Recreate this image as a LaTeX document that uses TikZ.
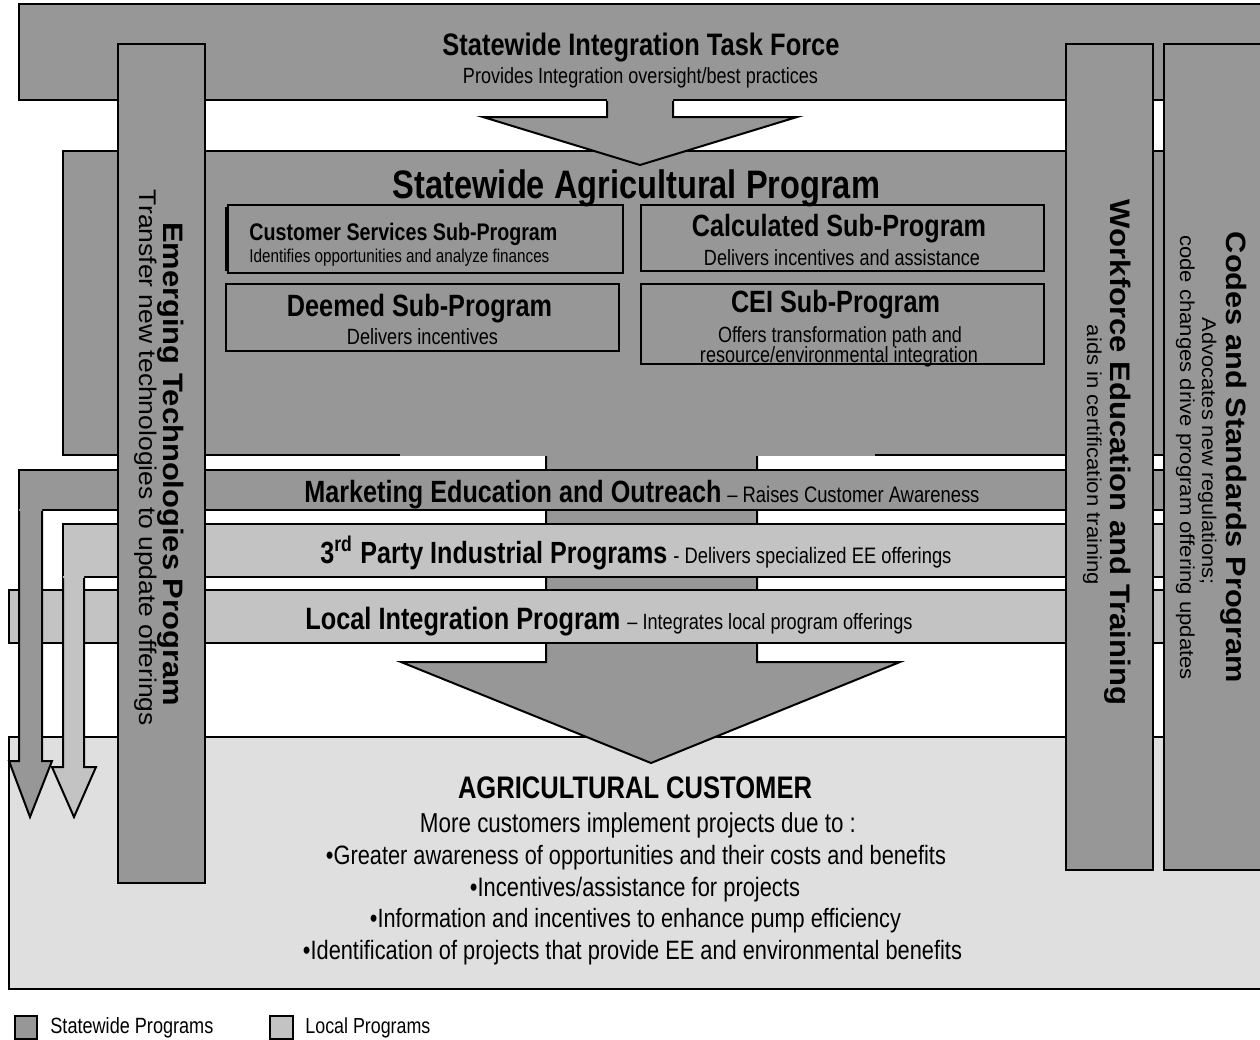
\documentclass[tikz,border=0pt]{standalone}
\usepackage{fontspec}
\setmainfont{Liberation Sans}
\newfontfamily\nar[FakeStretch=0.82]{Liberation Sans}
\newfontfamily\wid[FakeStretch=1.1]{Liberation Sans}
\newlength\pxu \setlength\pxu{0.5pt}
\newcommand{\fitw}[2]{\resizebox{#1\pxu}{!}{#2}}
\definecolor{sw}{HTML}{979797}
\definecolor{loc}{HTML}{C3C3C3}
\definecolor{cust}{HTML}{DFDFDF}
\begin{document}
\begin{tikzpicture}[x=0.5pt,y=-0.5pt,line join=miter,
  box/.style={draw=black,line width=1pt},
  swbox/.style={box,fill=sw},
  locbox/.style={box,fill=loc},
  txc/.style={inner sep=0pt,anchor=base},
  txl/.style={inner sep=0pt,anchor=base west},
  txv/.style={inner sep=0pt,anchor=base,rotate=-90}]
\path[use as bounding box] (0,0) rectangle (1260,1040);
\clip (0,0) rectangle (1260,1040);
\fill[white] (0,0) rectangle (1260,1040);

% task force and agricultural program
\draw[swbox] (19,4) rectangle (1290,100);
\draw[swbox] (63,151) rectangle (1190,455);
% top arrow
\fill[sw] (607,98) -- (607,117) -- (483,117) -- (640,165) -- (797,117) -- (673,117) -- (673,98) -- cycle;
\draw[line width=1pt] (607,101) -- (607,117) -- (483,117) -- (640,165) -- (797,117) -- (673,117) -- (673,101);

% sub-programs
\draw[box] (228,205) rectangle (623,273);
\draw[line width=0.6pt] (226,207) -- (226,271);
\draw[box] (641,205) rectangle (1044,271);
\draw[box] (226,284) rectangle (619,351);
\draw[box] (641,284) rectangle (1044,364);

% customer box
\draw[box,fill=cust] (9,737) rectangle (1290,989);

% central arrow
\fill[sw] (400,372) rectangle (875,456);
\fill[sw] (546,454) -- (546,662) -- (401,662) -- (651,763) -- (900,662) -- (757,662) -- (757,454) -- cycle;
\draw[line width=1pt] (546,456) -- (546,662) -- (401,662) -- (651,763) -- (900,662) -- (757,662) -- (757,456);

% bands
\draw[swbox] (19,470) rectangle (1190,510);
\draw[locbox] (63,524) rectangle (1190,577);
\draw[locbox] (9,590) rectangle (1190,643);

% left arrows
\fill[sw] (19,509) -- (19,761) -- (9,761) -- (30,817) -- (52,761) -- (42,761) -- (42,509) -- cycle;
\draw[line width=1pt] (19,511) -- (19,761) -- (9,761) -- (30,817) -- (52,761) -- (42,761) -- (42,511);
\fill[loc] (63,576) -- (63,767) -- (52,767) -- (74,817) -- (96,767) -- (84,767) -- (84,576) -- cycle;
\draw[line width=1pt] (63,578) -- (63,767) -- (52,767) -- (74,817) -- (96,767) -- (84,767) -- (84,578);

% vertical bars
\draw[swbox] (118,44) rectangle (205,883);
\draw[swbox] (1066,44) rectangle (1153,870);
\draw[swbox] (1164,44) rectangle (1290,870);

% texts
\node[txc] (tf) at (641,55) {\fitw{397}{\nar\bfseries Statewide Integration Task Force}};
\node[txc] (tfs) at (640.5,83) {\fitw{355}{\nar Provides Integration oversight/best practices}};
\node[txc] (ag) at (636.5,198) {\fitw{487}{\nar\bfseries Statewide Agricultural Program}};
\node[txl] (cs) at (249,240) {\fitw{308}{\nar\bfseries Customer Services Sub-Program}};
\node[txl] (css) at (249,262) {\fitw{300}{\nar Identifies opportunities and analyze finances}};
\node[txc] (ca) at (839,236) {\fitw{294}{\nar\bfseries Calculated Sub-Program}};
\node[txc] (cas) at (842,265) {\fitw{276}{\nar Delivers incentives and assistance}};
\node[txc] (de) at (419.5,316) {\fitw{265}{\nar\bfseries Deemed Sub-Program}};
\node[txc] (des) at (422.5,344) {\fitw{151}{\nar Delivers incentives}};
\node[txc] (cei) at (835.5,312) {\fitw{209}{\nar\bfseries CEI Sub-Program}};
\node[txc] (cei1) at (840,342) {\fitw{244}{\nar Offers transformation path and}};
\node[txc] (cei2) at (839,362) {\fitw{278}{\nar resource/environmental integration}};

\node[txl] (mk) at (304,502) {\fitw{417}{\nar\bfseries Marketing Education and Outreach}};
\node[txl] (mks) at (727,502) {\fitw{252}{\nar – Raises Customer Awareness}};
\node[txl] (tp) at (320,563) {\fitw{347}{\nar\bfseries 3\textsuperscript{rd} Party Industrial Programs}};
\node[txl] (tps) at (673,563) {\fitw{278}{\nar - Delivers specialized EE offerings}};
\node[txl] (lo) at (305,629) {\fitw{315}{\nar\bfseries Local Integration Program}};
\node[txl] (los) at (627,629) {\fitw{285}{\nar – Integrates local program offerings}};

\node[txc] (ac) at (635,798) {\fitw{354}{\nar\bfseries AGRICULTURAL CUSTOMER}};
\node[txc] (l1) at (638,832) {\fitw{436}{\nar More customers implement projects due to :}};
\node[txc] (l2) at (636,864) {\fitw{620}{\nar •Greater awareness of opportunities and their costs and benefits}};
\node[txc] (l3) at (635,896) {\fitw{330}{\nar •Incentives/assistance for projects}};
\node[txc] (l4) at (635.5,927) {\fitw{531}{\nar •Information and incentives to enhance pump efficiency}};
\node[txc] (l5) at (632.5,959) {\fitw{659}{\nar •Identification of projects that provide EE and environmental benefits}};

\node[txv] (et) at (163,464) {\fitw{484}{\wid\bfseries Emerging Technologies Program}};
\node[txv] (ets) at (139,458) {\fitw{536}{\wid Transfer new technologies to update offerings}};
\node[txv] (wf) at (1110,452.5) {\fitw{505}{\wid\bfseries Workforce Education and Training}};
\node[txv] (wfs) at (1087,455) {\fitw{260}{\wid aids in certification training}};
\node[txv] (cd) at (1226,457.5) {\fitw{451}{\wid\bfseries Codes and Standards Program}};
\node[txv] (cd1) at (1202,451.5) {\fitw{267}{\wid Advocates new regulations;}};
\node[txv] (cd2) at (1180,457.5) {\fitw{445}{\wid code changes drive program offering updates}};

% legend
\draw[box,fill=sw] (15,1016) rectangle (37,1039);
\node[txl] (lg1) at (50,1033) {\fitw{163}{\nar Statewide Programs}};
\draw[box,fill=loc] (270,1016) rectangle (293,1039);
\node[txl] (lg2) at (305,1033) {\fitw{125}{\nar Local Programs}};
\end{tikzpicture}
\end{document}
